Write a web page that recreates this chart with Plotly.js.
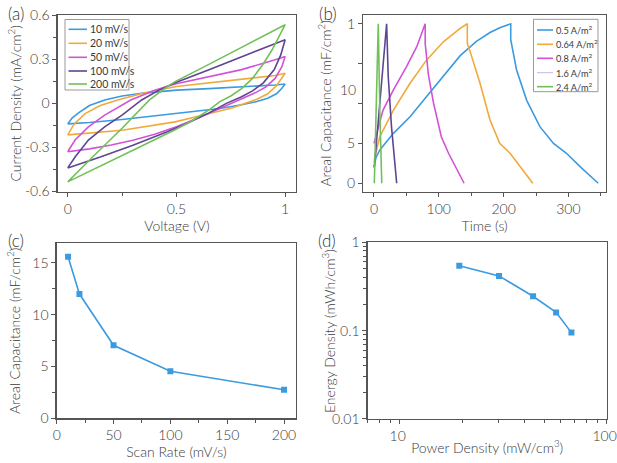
<!DOCTYPE html>
<html><head><meta charset="utf-8">
<script src="https://cdn.plot.ly/plotly-3.0.1.min.js"></script>
<style>html,body{margin:0;padding:0;background:#fff;}#chart{width:617px;height:463px;}</style>
</head><body><div id="chart"></div>
<script>
// ---------- (a) CV curves ----------
const cvLabels = ['10 mV/s','20 mV/s','50 mV/s','100 mV/s','200 mV/s'];
const cvV_10 = [0,0.02,0.05,0.1,0.17,0.25,0.35,0.5,0.65,0.8,0.954,1.0, 0.985,0.96,0.92,0.87,0.8,0.7,0.6,0.5,0.3,0.25,0.1,0];
const cvJ_10 = [-0.14,-0.1,-0.065,-0.015,0.023,0.05,0.07,0.09,0.1,0.11,0.125,0.132, 0.103,0.065,0.035,0.012,-0.01,-0.035,-0.052,-0.07,-0.102,-0.11,-0.13,-0.14];
const cvV_20 = [0,0.03,0.08,0.15,0.23,0.35,0.5,0.65,0.8,0.9,0.954,1.0, 0.985,0.96,0.92,0.87,0.84,0.76,0.61,0.494,0.25,0.1,0];
const cvJ_20 = [-0.215,-0.14,-0.07,-0.015,0.023,0.07,0.115,0.14,0.162,0.178,0.19,0.205, 0.17,0.12,0.065,0.028,0.012,-0.03,-0.085,-0.126,-0.183,-0.205,-0.215];
const cvV_50 = [0,0.034,0.095,0.17,0.29,0.4,0.494,0.647,0.8,0.954,1.0, 0.985,0.954,0.91,0.86,0.79,0.7,0.6,0.5,0.4,0.3,0.2,0.1,0];
const cvJ_50 = [-0.33,-0.25,-0.16,-0.08,0.023,0.09,0.132,0.182,0.23,0.297,0.32, 0.25,0.17,0.11,0.07,0.025,-0.035,-0.1,-0.16,-0.21,-0.252,-0.284,-0.31,-0.33];
const cvV_100 = [0,0.034,0.095,0.17,0.25,0.34,0.42,0.494,0.647,0.8,0.954,1.0, 0.98,0.95,0.9,0.85,0.8,0.73,0.65,0.55,0.455,0.3,0.15,0];
const cvJ_100 = [-0.44,-0.366,-0.25,-0.16,-0.08,0.023,0.09,0.141,0.228,0.315,0.405,0.434, 0.33,0.23,0.14,0.085,0.045,0.0,-0.065,-0.135,-0.195,-0.285,-0.366,-0.44];
const cvV_200 = [0,0.05,0.125,0.25,0.376,0.45,0.494,0.647,0.8,0.954,1.0, 0.97,0.94,0.9,0.85,0.8,0.75,0.7,0.65,0.57,0.494,0.3,0.15,0];
const cvJ_200 = [-0.535,-0.46,-0.35,-0.17,0.023,0.105,0.148,0.264,0.38,0.497,0.536, 0.45,0.365,0.27,0.17,0.1,0.05,0.012,-0.045,-0.12,-0.18,-0.32,-0.43,-0.535];
const cvColors = ['#3b9be0','#f2a93b','#d452d8','#5e4593','#72c05a'];

// ---------- (b) charge-discharge ----------
const gcdLabels = ['0.5 A/m<sup>2</sup>','0.64 A/m<sup>2</sup>','0.8 A/m<sup>2</sup>','1.6 A/m<sup>2</sup>','2.4 A/m<sup>2</sup>'];
const gcdT_05 = [0,3,9,30,55.6,81,107,133,158,179,195,211,211,220,235.6,256,277,297,318,346];
const gcdV_05 = [0.1,0.16,0.209,0.313,0.417,0.543,0.668,0.8,0.89,0.945,0.977,1.0,0.9,0.71,0.52,0.355,0.25,0.188,0.104,0];
const gcdT_064 = [0,1.5,9,30,55.6,81,107,133,144,144,148,163.6,179,194,210,225,245];
const gcdV_064 = [0.13,0.167,0.292,0.459,0.627,0.772,0.887,0.971,1.0,0.877,0.83,0.627,0.397,0.25,0.188,0.104,0];
const gcdT_08 = [0,14,30,50,66,79,79,84,92,104,115,139];
const gcdV_08 = [0.25,0.459,0.585,0.73,0.856,1.0,0.877,0.68,0.5,0.29,0.188,0];
const gcdT_16 = [0.5,6.6,12,17,19.5,22,27,35];
const gcdV_16 = [0.1,0.397,0.668,0.9,1.0,0.668,0.355,0];
const gcdT_24 = [0.5,3.5,6.6,9,12];
const gcdV_24 = [0,0.55,1.0,0.45,0];
const gcdColors = ['#3b9be0','#f2a93b','#d452d8','#5e4593','#72c05a'];
const gcdLegendColors = ['#3b9be0','#f2a93b','#d452d8','#c9b6e4','#72c05a'];
const gcdTickVals = [0,0.25,1];
const gcdTickText = ['0','5','1'];

// ---------- (c) capacitance vs scan rate ----------
const scanRate = [10,20,50,100,200];
const arealCap = [15.6,12.0,7.05,4.55,2.75];

// ---------- (d) Ragone ----------
const powerDensity = [19.4,30.2,44.1,57,67.6];
const energyDensity = [0.542,0.417,0.245,0.161,0.095];
const logMinorX = [7,8,9,20,30,40,50,60,70,80,90];
const logMinorY = [0.02,0.03,0.04,0.05,0.06,0.07,0.08,0.09,0.2,0.3,0.4,0.5,0.6,0.7,0.8,0.9];

const FONT = 'Lato, "Open Sans", sans-serif';
const TXT = '#3a3a3a';
const LINE = '#555';
const W = 617, H = 463;
const px = x => x / W, py = y => 1 - y / H;

const traces = [];
const cvV = [cvV_10,cvV_20,cvV_50,cvV_100,cvV_200];
const cvJ = [cvJ_10,cvJ_20,cvJ_50,cvJ_100,cvJ_200];
cvLabels.forEach((n,i)=>traces.push({x:cvV[i],y:cvJ[i],name:n,type:'scatter',mode:'lines',line:{color:cvColors[i],width:1.6},xaxis:'x',yaxis:'y',showlegend:false}));
const gT = [gcdT_05,gcdT_064,gcdT_08,gcdT_16,gcdT_24];
const gV = [gcdV_05,gcdV_064,gcdV_08,gcdV_16,gcdV_24];
gcdLabels.forEach((n,i)=>traces.push({x:gT[i],y:gV[i],name:n,type:'scatter',mode:'lines',line:{color:gcdColors[i],width:1.6},xaxis:'x2',yaxis:'y2',showlegend:false}));
traces.push({x:scanRate,y:arealCap,type:'scatter',mode:'lines+markers',line:{color:'#3b9be0',width:1.6},marker:{symbol:'square',size:6,color:'#3b9be0'},xaxis:'x3',yaxis:'y3',showlegend:false});
traces.push({x:powerDensity,y:energyDensity,type:'scatter',mode:'lines+markers',line:{color:'#3b9be0',width:1.6},marker:{symbol:'square',size:6,color:'#3b9be0'},xaxis:'x4',yaxis:'y4',showlegend:false});

function ax(extra){
  return Object.assign({showline:true,mirror:true,linecolor:LINE,linewidth:1.3,ticks:'outside',ticklen:4,tickwidth:1,tickcolor:LINE,
    showgrid:false,zeroline:false,automargin:false,ticklabeloverflow:'allow',tickfont:{family:FONT,size:14,color:TXT,weight:300}},extra);
}
function ttl(t,s){return {text:t,font:{family:FONT,size:14,color:TXT,weight:300},standoff:s};}
const minorOut = (d)=>({ticks:'outside',ticklen:3,tickcolor:LINE,dtick:d,showgrid:false});
const minorVals = (v)=>({ticks:'outside',ticklen:3,tickcolor:LINE,tickmode:'array',tickvals:v,showgrid:false});

const layout = {
  width:W,height:H,margin:{l:0,r:0,t:0,b:0},paper_bgcolor:'#fff',plot_bgcolor:'#fff',showlegend:false,
  font:{family:FONT,color:TXT},
  xaxis: ax({domain:[px(57.7),px(296)],anchor:'y',range:[-0.046,1.05],tickvals:[0,0.5,1],ticktext:['0','0.5','1'],minor:minorOut(0.25),title:ttl('Voltage (V)',0)}),
  yaxis: ax({domain:[py(191.7),py(15)],anchor:'x',range:[-0.602,0.602],tickvals:[-0.6,-0.3,0,0.3,0.6],ticktext:['-0.6','-0.3','0','0.3','0.6'],minor:minorOut(0.15),title:ttl('Current Density (mA/cm<sup>2</sup>)',0)}),
  xaxis2: ax({domain:[px(363.3),px(606)],anchor:'y2',range:[-16.5,358],tickvals:[0,100,200,300],minor:minorOut(50),title:ttl('Time (s)',0)}),
  yaxis2: ax({domain:[py(191.7),py(15)],anchor:'x2',range:[-0.053,1.055],tickvals:gcdTickVals,ticktext:gcdTickText,minor:{ticks:'outside',ticklen:4,tickcolor:LINE,tickmode:'array',tickvals:[0.5,0.75]},title:ttl('Areal Capacitance (mF/cm<sup>2</sup>)',12)}),
  xaxis3: ax({domain:[px(56.7),px(296)],anchor:'y3',range:[0,210.5],tickvals:[0,50,100,150,200],minor:minorOut(25),title:ttl('Scan Rate (mV/s)',3)}),
  yaxis3: ax({domain:[py(418.3),py(243.3)],anchor:'x3',range:[0,16.9],tickvals:[0,5,10,15],minor:minorOut(2.5),title:ttl('Areal Capacitance (mF/cm<sup>2</sup>)',8)}),
  xaxis4: ax({type:'log',domain:[px(367.7),px(606.7)],anchor:'y4',range:[Math.log10(7),2.0005],tickvals:[10,100],ticktext:['10','100'],ticklabelshift:-2,minor:minorVals(logMinorX),title:ttl('Power Density (mW/cm<sup>3</sup>)',0)}),
  yaxis4: ax({type:'log',domain:[py(419),py(242.3)],anchor:'x4',range:[-2.0005,0.0005],tickvals:[0.01,0.1,1],ticktext:['0.01','0.1','1'],minor:minorVals(logMinorY)}),
  shapes:[],annotations:[]
};

// panel letters
[['(a)',6,13],['(b)',317,13],['(c)',6,241],['(d)',316,241]].forEach(([t,x,y])=>layout.annotations.push({text:t,xref:'paper',yref:'paper',x:px(x),y:py(y),xanchor:'left',yanchor:'middle',showarrow:false,font:{family:FONT,size:17,color:'#333',weight:300}}));
// extra y tick label for (b)
layout.annotations.push({text:'10',xref:'paper',yref:'y2',x:px(358),y:0.585,xanchor:'right',yanchor:'middle',showarrow:false,font:{family:FONT,size:14,color:TXT,weight:300}});
// y title for (d)
layout.annotations.push({text:'Energy Density (mWh/cm<sup>3</sup>)',xref:'paper',yref:'paper',x:px(328),y:py(331),xanchor:'center',yanchor:'middle',textangle:-90,showarrow:false,font:{family:FONT,size:14,color:TXT,weight:300}});

// legends (boxes with sample lines + text)
function legend(box,rows,lineX,textX,labels,colors,widths,fs){
  layout.shapes.push({type:'rect',xref:'paper',yref:'paper',x0:px(box[0]),x1:px(box[2]),y0:py(box[3]),y1:py(box[1]),line:{color:'#999',width:1},fillcolor:'#fff',layer:'above'});
  labels.forEach((l,i)=>{
    layout.shapes.push({type:'line',xref:'paper',yref:'paper',x0:px(lineX[0]),x1:px(lineX[1]),y0:py(rows[i]),y1:py(rows[i]),line:{color:colors[i],width:widths?widths[i]:1.6},layer:'above'});
    layout.annotations.push({text:l,xref:'paper',yref:'paper',x:px(textX),y:py(rows[i]),xanchor:'left',yanchor:'middle',showarrow:false,font:{family:FONT,size:fs,color:TXT}});
  });
}
legend([65,19.5,129,90],[29.3,43.3,57.3,71,84],[68.5,87],87.5,cvLabels,cvColors,null,10.5);
legend([533.5,19.3,598,91.7],[30,44.3,58.3,72.7,86.7],[537,553],553.5,gcdLabels,gcdLegendColors,[1.6,1.6,1.6,1,1.6],9.2);

Plotly.newPlot('chart',traces,layout,{displayModeBar:false,staticPlot:true});
</script></body></html>
